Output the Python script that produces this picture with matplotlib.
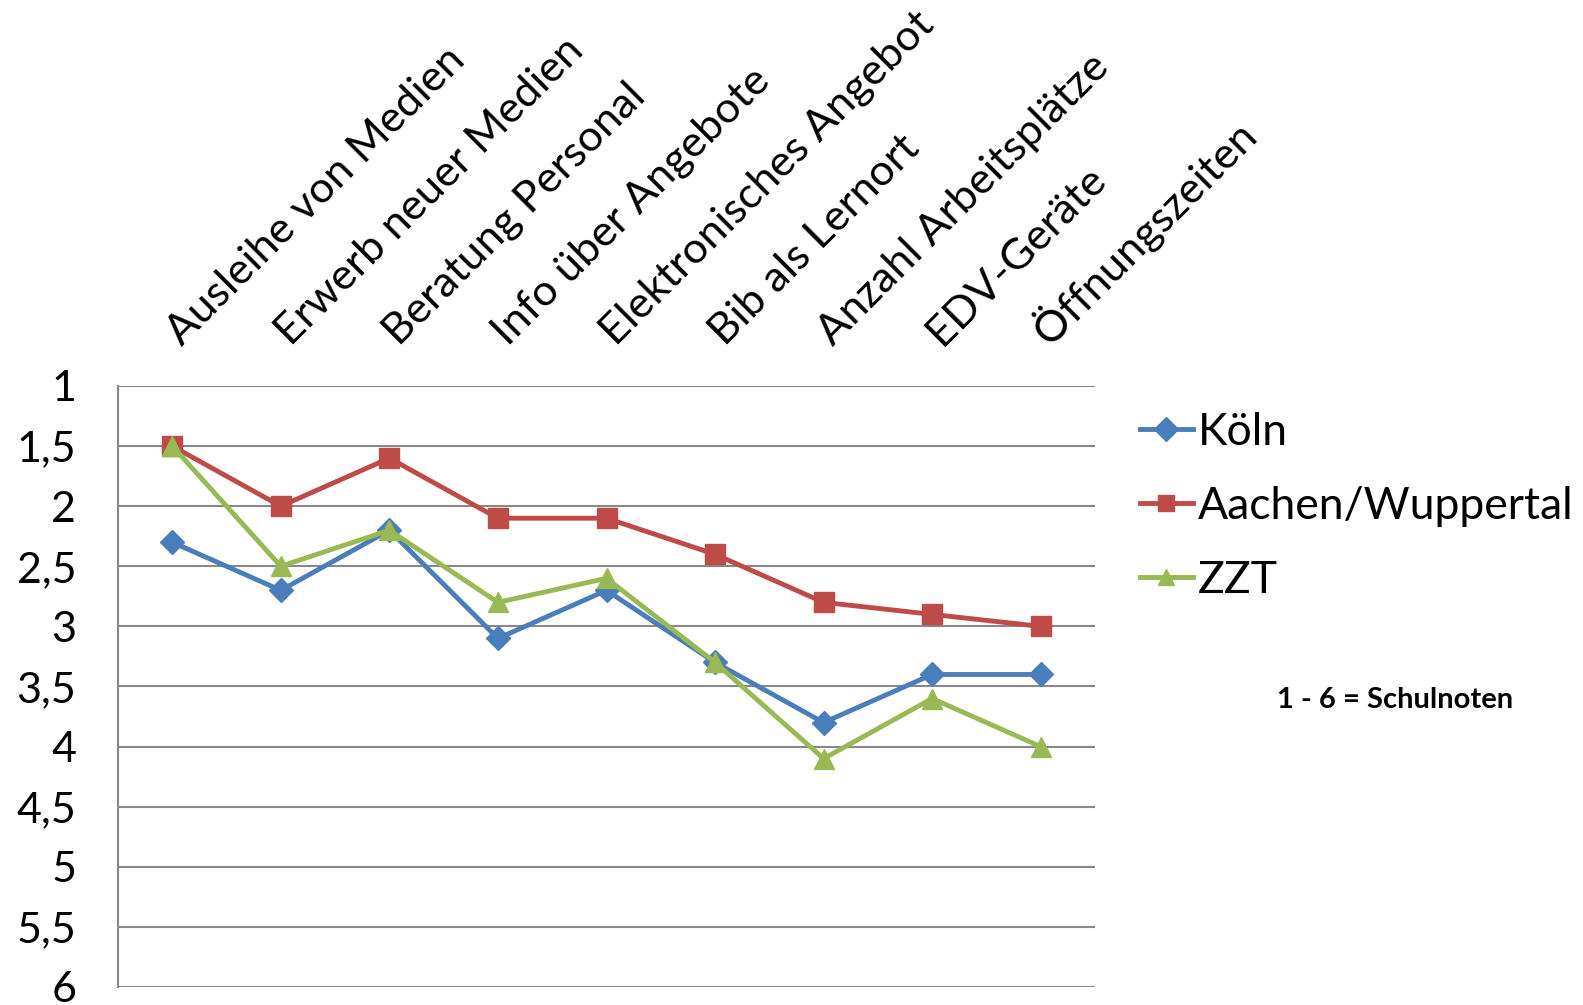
import matplotlib
matplotlib.use("Agg")
import matplotlib.pyplot as plt
from matplotlib.ticker import FixedLocator, FuncFormatter
from matplotlib.transforms import offset_copy

categories = ["Ausleihe von Medien", "Erwerb neuer Medien", "Beratung Personal",
              "Info über Angebote", "Elektronisches Angebot", "Bib als Lernort",
              "Anzahl Arbeitsplätze", "EDV-Geräte", "Öffnungszeiten"]
koeln = [2.3, 2.7, 2.2, 3.1, 2.7, 3.3, 3.8, 3.4, 3.4]
aachen = [1.5, 2.0, 1.6, 2.1, 2.1, 2.4, 2.8, 2.9, 3.0]
zzt = [1.5, 2.5, 2.2, 2.8, 2.6, 3.3, 4.1, 3.6, 4.0]
yticks = [1, 1.5, 2, 2.5, 3, 3.5, 4, 4.5, 5, 5.5, 6]
note = "1 - 6 = Schulnoten"

plt.rcParams['font.family'] = ['Lato', 'DejaVu Sans']

fig = plt.figure(figsize=(15.83, 10.05), dpi=100)
ax = fig.add_axes([118/1583, 1-987/1005, (1095-118)/1583, (987-386)/1005])

x = list(range(len(categories)))
ax.plot(x, koeln, color='#4A7EBB', lw=3.5, marker='D', ms=12, label='Köln', zorder=3)
ax.plot(x, aachen, color='#BE4B48', lw=3.5, marker='s', ms=14, label='Aachen/Wuppertal', zorder=3)
ax.plot(x, zzt, color='#98B954', lw=3.5, marker='^', ms=15, label='ZZT', zorder=4)

ax.set_xlim(-0.5, len(categories) - 0.5)
ax.set_ylim(6, 1)
ax.yaxis.set_major_locator(FixedLocator(yticks))
ax.yaxis.set_major_formatter(FuncFormatter(lambda v, p: (f"{v:g}").replace('.', ',')))
ax.grid(axis='y', color='#888888', lw=1.5, zorder=0)
ax.set_axisbelow(True)
for s in ['top', 'right', 'bottom']:
    ax.spines[s].set_visible(False)
ax.spines['left'].set_color('#888888')
ax.spines['left'].set_linewidth(1.5)
ax.tick_params(axis='y', length=0, pad=30, labelsize=31)

ax.set_xticks([])
lbl_tr = offset_copy(ax.get_xaxis_transform(), fig=fig, x=7, y=28, units='points')
for xi, cat in zip(x, categories):
    ax.text(xi, 1.0, cat, transform=lbl_tr, fontsize=31.3, rotation=45,
            ha='left', va='baseline', rotation_mode='anchor')

leg = fig.legend(loc='upper left', bbox_to_anchor=(1122/1583, 1-394/1005),
                 frameon=False, fontsize=32, handlelength=1.2, handletextpad=0.1,
                 labelspacing=0.74, borderaxespad=0)
for h in leg.legend_handles:
    h.set_markersize(12)
    h.set_linewidth(3.5)

fig.text(1395/1583, 1-700/1005, note, fontsize=21, fontweight='bold',
         ha='center', va='center')

fig.savefig('out.png', dpi=100)
